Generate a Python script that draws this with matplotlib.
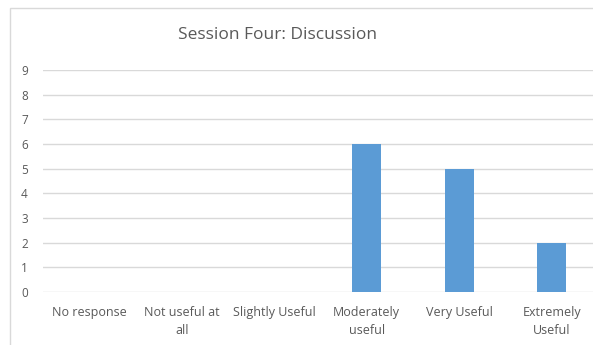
import matplotlib.pyplot as plt
from matplotlib.patches import Rectangle

categorias = ["No response", "Not useful at\nall", "Slightly Useful",
              "Moderately\nuseful", "Very Useful", "Extremely\nUseful"]
respuestas = [0, 0, 0, 6, 5, 2]
marcas_y = list(range(0, 10))

plt.rcParams['font.family'] = ['Open Sans', 'DejaVu Sans']

fig = plt.figure(figsize=(5.93, 3.45), dpi=100)
# marco gris del grafico
fig.patches.append(Rectangle((10 / 593, -0.1), 1.2, 1 - 8 / 345 + 0.1,
                             transform=fig.transFigure, fill=False,
                             edgecolor='#d9d9d9', linewidth=1))

ax = fig.add_axes([43 / 593, 53 / 345, 555 / 593, 222 / 345])
x = range(len(categorias))
ax.bar(x, respuestas, width=0.31, color='#5b9bd5', zorder=2)

ax.set_xlim(-0.5, len(categorias) - 0.5)
ax.set_ylim(0, 9)
ax.set_yticks(marcas_y)
ax.set_xticks(list(x))
ax.set_xticklabels(categorias, fontsize=9, color='#595959', linespacing=1.55)
ax.tick_params(axis='y', labelsize=8.5, labelcolor='#595959', length=0, pad=11)
ax.tick_params(axis='x', length=0, pad=10)

ax.grid(axis='y', color='#d9d9d9', linewidth=1, zorder=0)
for s in ax.spines.values():
    s.set_visible(False)

fig.text(277.5 / 593, 1 - 35 / 345, "Session Four: Discussion", ha='center',
         va='center', fontsize=12.5, color='#595959')

fig.savefig('out.png', dpi=100)
